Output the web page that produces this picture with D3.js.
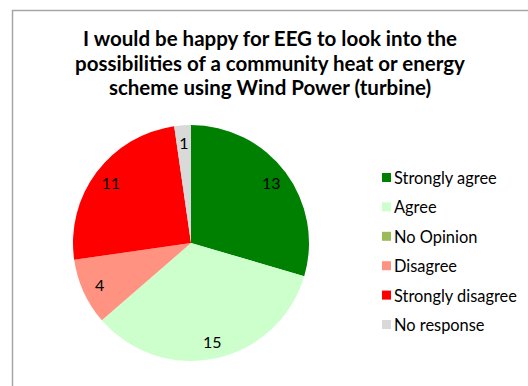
<!DOCTYPE html>
<html>
<head>
<meta charset="utf-8">
<script src="https://cdn.jsdelivr.net/npm/d3@7/dist/d3.min.js"></script>
<style>
  html, body { margin: 0; padding: 0; background: #fff; }
  svg { display: block; }
  text { font-family: Lato, "Open Sans", "DejaVu Sans", sans-serif; }
</style>
</head>
<body>
<svg id="chart" width="528" height="386"></svg>
<script>
// Survey responses
const categories = ["Strongly agree", "Agree", "No Opinion", "Disagree", "Strongly disagree", "No response"];
const counts = [13, 15, 0, 4, 11, 1];
const colors = ["#008000", "#ccffcc", "#9bbb59", "#ff9280", "#ff0000", "#d9d9d9"];
const titleLines = [
  "I would be happy for EEG to look into the",
  "possibilities of a community heat or energy",
  "scheme using Wind Power (turbine)"
];

const svg = d3.select("#chart");

// chart frame (runs off the right and bottom edges)
svg.append("rect")
  .attr("x", 12.5).attr("y", 10.5)
  .attr("width", 540).attr("height", 400)
  .attr("fill", "#fff")
  .attr("stroke", "#a6a6a6").attr("stroke-width", 1.5);

// title
const title = svg.append("text")
  .attr("text-anchor", "middle")
  .attr("font-weight", "bold")
  .attr("fill", "#000")
  .attr("font-size", 18);
title.selectAll("tspan")
  .data(titleLines)
  .join("tspan")
  .attr("x", 270)
  .attr("y", (d, i) => 46 + i * 24.5)
  .text(d => d);
// fit the widest line to the available width
const widest = d3.max(title.selectAll("tspan").nodes(), n => n.getComputedTextLength());
title.attr("font-size", 18 * 390 / widest);

// pie
const cx = 191, cy = 243, r = 118;
const data = categories.map((c, i) => ({ category: c, value: counts[i], color: colors[i] }));
const pie = d3.pie().value(d => d.value).sort(null);
const arcs = pie(data);
const arc = d3.arc().innerRadius(0).outerRadius(r);
const labelArc = d3.arc().innerRadius(r * 0.85).outerRadius(r * 0.85);

const g = svg.append("g").attr("transform", `translate(${cx},${cy})`);
g.selectAll("path")
  .data(arcs)
  .join("path")
  .attr("d", arc)
  .attr("fill", d => d.data.color);

g.selectAll("text.value")
  .data(arcs.filter(d => d.data.value > 0))
  .join("text")
  .attr("class", "value")
  .attr("transform", d => `translate(${labelArc.centroid(d)})`)
  .attr("text-anchor", "middle")
  .attr("dominant-baseline", "central")
  .attr("font-size", 16)
  .attr("fill", "#000")
  .text(d => d.data.value);

// legend
const legend = svg.append("g").attr("transform", "translate(382,177.5)");
const item = legend.selectAll("g")
  .data(data)
  .join("g")
  .attr("transform", (d, i) => `translate(0,${i * 29.4})`);
item.append("rect")
  .attr("x", 0).attr("y", -4.5)
  .attr("width", 9).attr("height", 9)
  .attr("fill", d => d.color);
const labels = item.append("text")
  .attr("x", 12)
  .attr("dominant-baseline", "central")
  .attr("font-size", 14)
  .attr("fill", "#000")
  .text(d => d.category);
// size legend text so the longest entry spans the legend column
const longest = d3.max(labels.nodes(), n => n.getComputedTextLength());
labels.attr("font-size", 14 * 123 / longest);
</script>
</body>
</html>
